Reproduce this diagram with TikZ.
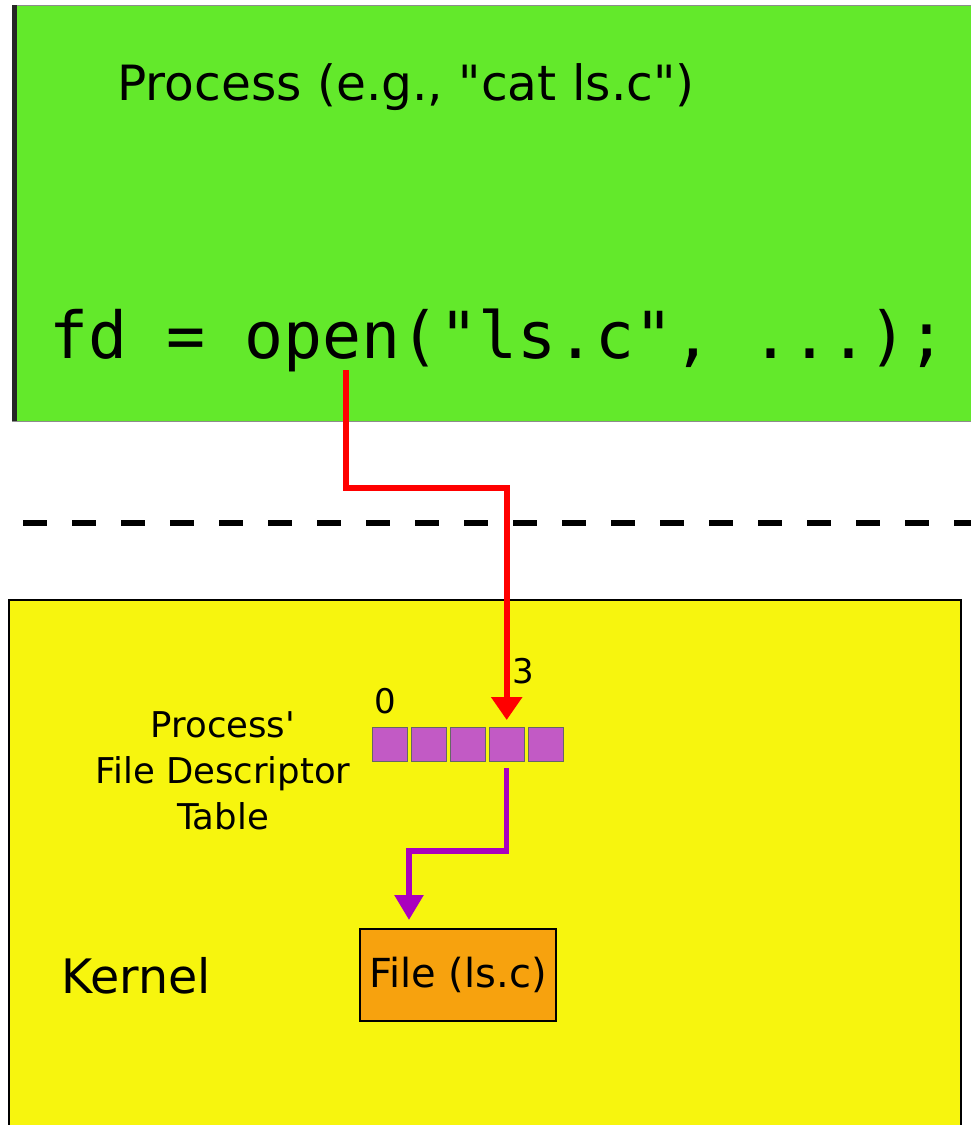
\documentclass[tikz,border=0pt]{standalone}
\usepackage{fontspec}
\newfontfamily\sansf{DejaVu Sans}
\newfontfamily\monof{DejaVu Sans Mono}
\usetikzlibrary{arrows.meta}
\definecolor{procgreen}{RGB}{99,233,43}
\definecolor{kernyellow}{RGB}{247,245,14}
\definecolor{fileorange}{RGB}{247,162,14}
\definecolor{cellpurple}{RGB}{194,90,197}
\definecolor{arrowpurple}{RGB}{170,0,190}
\tikzset{
  txt/.style={inner sep=0pt, outer sep=0pt, text=black},
  cellbox/.style={draw=black!60, line width=1pt, fill=cellpurple, minimum width=35pt, minimum height=34pt, inner sep=0pt, outer sep=0pt},
  filebox/.style={draw=black, line width=1.5pt, fill=fileorange, minimum width=196pt, minimum height=92pt, inner sep=0pt, outer sep=0pt},
  redarrow/.style={draw=red, line width=6pt, -{Triangle[width=30pt,length=23pt]}},
  purplearrow/.style={draw=arrowpurple, line width=5.5pt, -{Triangle[width=28pt,length=25pt]}},
}
\begin{document}
\begin{tikzpicture}[x=1pt,y=-1pt]
\useasboundingbox (0,0) rectangle (971,1125);
% process area
\fill[procgreen] (12,5) rectangle (971,421);
\draw[black!45, line width=0.8pt] (12,5) -- (971,5);
\draw[black!45, line width=0.8pt] (12,421) -- (971,421);
\draw[black!85, line width=4.5pt] (14.5,5) -- (14.5,421);
\node[txt, anchor=base, font=\sansf\fontsize{48.6}{58}\selectfont] (ptitle) at (406,100) {Process (e.g., "cat ls.c")};
\node[txt, anchor=base, font=\monof\fontsize{64.8}{75}\selectfont] (code) at (498,358) {fd = open("ls.c", ...);};
\coordinate (rs) at (346,370);
% user/kernel boundary
\draw[black, line width=6.5pt, dash pattern=on 24pt off 25pt] (23,523) -- (971,523);
% kernel area
\fill[kernyellow] (9,600) rectangle (961,1125);
\draw[black, line width=2pt] (9,1126) -- (9,600) -- (961,600) -- (961,1126);
\node[txt, anchor=base, font=\sansf\fontsize{47.5}{56}\selectfont] (kernel) at (136,993) {Kernel};
\node[txt, anchor=center, align=center, font=\sansf\fontsize{35.5}{46}\selectfont] (fdtlabel) at (223,771) {Process'\\File Descriptor\\Table};
% fd table
\foreach \i in {0,...,4} {
  \node[cellbox] (c\i) at (390+38.9*\i,744) {};
}
\node[txt, anchor=base, font=\sansf\fontsize{34}{40}\selectfont] (l0) at (385,713) {0};
\node[txt, anchor=base, font=\sansf\fontsize{34}{40}\selectfont] (l3) at (523,683) {3};
% file
\node[filebox, font=\sansf\fontsize{40}{48}\selectfont] (file) at (458,975) {File (ls.c)};
% arrows
\draw[redarrow, shorten >=7pt] (rs) -- (rs |- 0,488) -| (c3.north);
\draw[purplearrow, shorten <=7pt, shorten >=9pt] (c3.south) -- ++(0,90) -| (file.north -| 409,0);
\end{tikzpicture}
\end{document}
